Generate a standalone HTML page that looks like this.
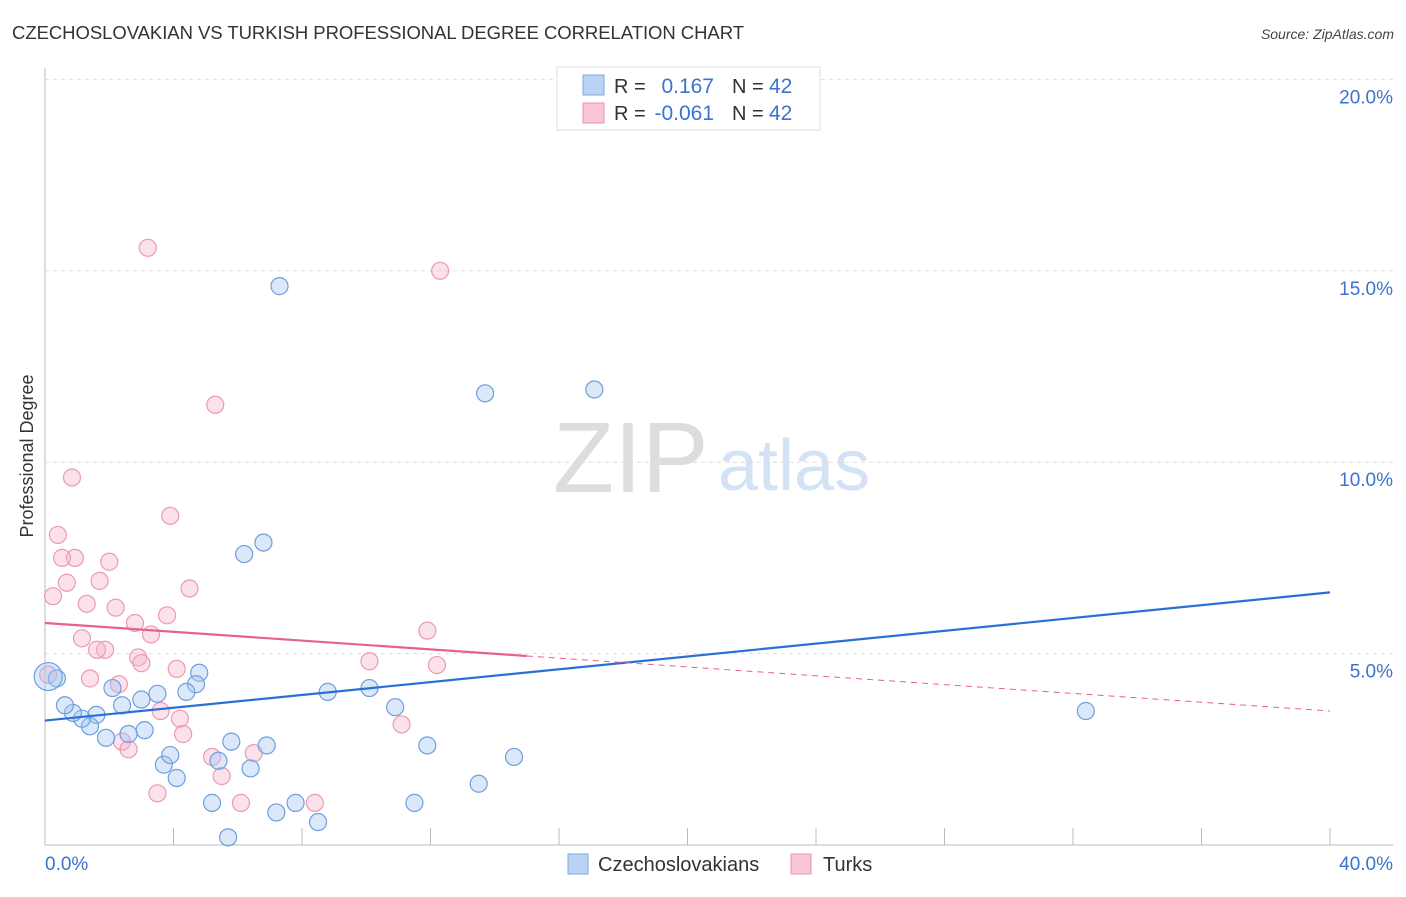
<!DOCTYPE html>
<html><head><meta charset="utf-8"><style>
body{margin:0;background:#fff;font-family:"Liberation Sans",sans-serif;}
svg text{font-family:"Liberation Sans",sans-serif;}
</style></head><body>
<svg id="chart" width="1406" height="892">
<text x="12" y="39" font-size="18.5" fill="#333" textLength="732">CZECHOSLOVAKIAN VS TURKISH PROFESSIONAL DEGREE CORRELATION CHART</text>
<text x="1394" y="39" font-size="14" fill="#444" font-style="italic" text-anchor="end">Source: ZipAtlas.com</text>
<text x="33" y="456" font-size="18" fill="#333" text-anchor="middle" transform="rotate(-90 33 456)">Professional Degree</text>
<text x="553" y="492" font-size="100" fill="#ddd" font-family="Liberation Serif">ZIP</text>
<text x="718" y="490" font-size="72" fill="#d3e2f5">atlas</text>
<g id="grid"></g><g id="pts"></g><g id="lines"></g>
<g>
<rect x="557" y="67" width="263" height="63" fill="#fff" stroke="#ddd"/>
<rect x="583" y="75" width="21" height="20" fill="#b9d3f5" stroke="#7ea8e3"/>
<rect x="583" y="103" width="21" height="20" fill="#f8c6d4" stroke="#eb93ae"/>
<text x="614" y="93" font-size="20" fill="#333">R = </text><text x="714" y="93" font-size="21" fill="#3b73d0" text-anchor="end">0.167</text>
<text x="732" y="93" font-size="20" fill="#333">N = </text><text x="769" y="93" font-size="21" fill="#3b73d0">42</text>
<text x="614" y="120" font-size="20" fill="#333">R = </text><text x="714" y="120" font-size="21" fill="#3b73d0" text-anchor="end">-0.061</text>
<text x="732" y="120" font-size="20" fill="#333">N = </text><text x="769" y="120" font-size="21" fill="#3b73d0">42</text>
</g>
<g>
<rect x="568" y="854" width="20" height="20" fill="#b9d3f5" stroke="#7ea8e3"/>
<text x="598" y="871" font-size="20" fill="#333">Czechoslovakians</text>
<rect x="791" y="854" width="20" height="20" fill="#f8c6d4" stroke="#eb93ae"/>
<text x="823" y="871" font-size="20" fill="#333">Turks</text>
</g>
<text x="45" y="870" font-size="19" fill="#3b73d0">0.0%</text>
<text x="1393" y="870" font-size="19" fill="#3b73d0" text-anchor="end">40.0%</text>
</svg>
<script>
const yTicks=[5,10,15,20];
const yTickLabels=["5.0%","10.0%","15.0%","20.0%"];
const blueX=[7.3,13.7,17.1,6.2,6.8,32.4,8.8,10.1,10.9,11.9,14.6,13.5,11.5,7.8,8.5,7.2,5.7,5.2,6.4,5.8,6.9,5.4,4.1,3.7,3.9,4.8,4.7,4.4,3.5,3.0,3.1,2.6,2.4,2.1,1.9,1.6,1.4,1.15,0.87,0.62,0.37,0.1];
const blueY=[14.6,11.8,11.9,7.6,7.9,3.5,4.0,4.1,3.6,2.6,2.3,1.6,1.1,1.1,0.6,0.85,0.2,1.1,2.0,2.7,2.6,2.2,1.75,2.1,2.35,4.5,4.2,4.0,3.95,3.8,3.0,2.9,3.65,4.1,2.8,3.4,3.1,3.3,3.45,3.65,4.35,4.4];
const pinkX=[3.2,12.3,5.3,0.84,3.9,0.4,0.93,0.53,2.0,1.7,0.68,4.5,0.25,1.3,2.2,3.8,2.8,3.3,1.15,1.87,1.62,2.9,3.0,11.9,10.1,12.2,4.1,1.4,2.3,0.1,3.6,4.2,4.3,11.1,2.4,2.6,6.5,5.2,5.5,3.5,6.1,8.4];
const pinkY=[15.6,15.0,11.5,9.6,8.6,8.1,7.5,7.5,7.4,6.9,6.85,6.7,6.5,6.3,6.2,6.0,5.8,5.5,5.4,5.1,5.1,4.9,4.75,5.6,4.8,4.7,4.6,4.35,4.2,4.45,3.5,3.3,2.9,3.15,2.7,2.5,2.4,2.3,1.8,1.35,1.1,1.1];
const blueFit=[3.25,6.6], pinkFit=[5.8,3.5], pinkSolidEnd=15;
const NS="http://www.w3.org/2000/svg";
const X0=45,X1=1330,YB=845,PX=191.4/5;
function sx(v){return X0+(X1-X0)*v/40;}
function sy(v){return YB-v*PX;}
function mk(t,a,p){const e=document.createElementNS(NS,t);for(const k in a)e.setAttribute(k,a[k]);p.appendChild(e);return e;}
const grid=document.getElementById('grid');
mk('line',{x1:45,y1:68,x2:45,y2:845,stroke:'#bbb'},grid);
mk('line',{x1:45,y1:845,x2:1393,y2:845,stroke:'#bbb'},grid);
for(let i=1;i<=10;i++){const x=X0+i*(X1-X0)/10;const l=mk('line',{x1:x,y1:828,x2:x,y2:845,stroke:'#bbb'},grid);

}
yTicks.forEach((v,i)=>{const l=mk('line',{x1:45,y1:sy(v),x2:1393,y2:sy(v),stroke:'#ddd','stroke-dasharray':'4,4'},grid);


const t=mk('text',{x:1393,y:sy(v)+24,'font-size':19,fill:'#3b73d0','text-anchor':'end'},grid);t.textContent=yTickLabels[i];

});
const pts=document.getElementById('pts');
pinkX.forEach((v,i)=>{const c=mk('circle',{cx:sx(v),cy:sy(pinkY[i]),r:8.5,fill:'rgba(246,180,200,0.4)',stroke:'#ec9ab4','stroke-width':1.2},pts);

});
blueX.forEach((v,i)=>{const c=mk('circle',{cx:sx(v),cy:sy(blueY[i]),r:i==41?14:8.5,fill:'rgba(165,198,240,0.4)',stroke:'#6e9ee0','stroke-width':1.2},pts);

});
const lines=document.getElementById('lines');
let b=mk('line',{x1:sx(0),y1:sy(blueFit[0]),x2:sx(40),y2:sy(blueFit[1]),stroke:'#2a6fd6','stroke-width':2.2},lines);


const pm=pinkFit[0]+(pinkFit[1]-pinkFit[0])*pinkSolidEnd/40;
let p=mk('line',{x1:sx(0),y1:sy(pinkFit[0]),x2:sx(pinkSolidEnd),y2:sy(pm),stroke:'#e8608c','stroke-width':2.2},lines);


let pd=mk('line',{x1:sx(pinkSolidEnd),y1:sy(pm),x2:sx(40),y2:sy(pinkFit[1]),stroke:'#e8608c','stroke-width':1,'stroke-dasharray':'6,5'},lines);


</script>
</body></html>
